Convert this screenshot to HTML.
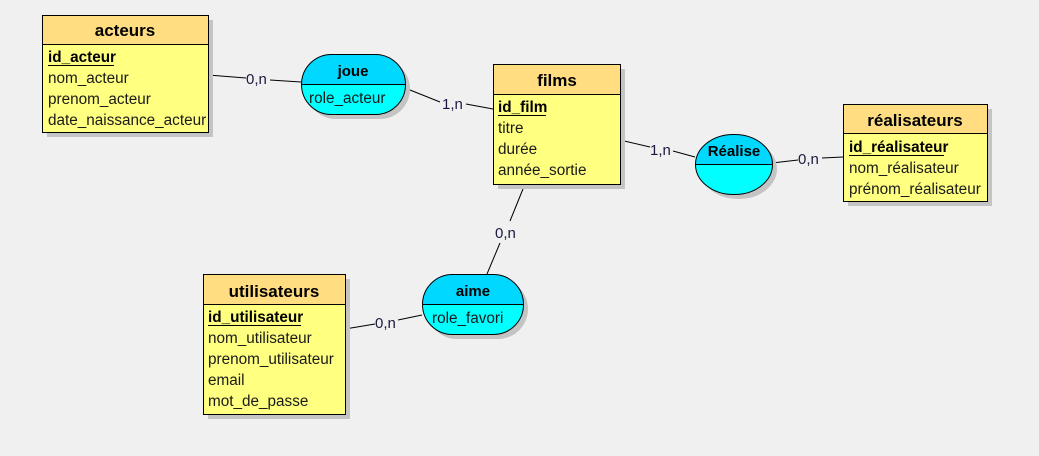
<!DOCTYPE html>
<html><head><meta charset="utf-8"><style>
html,body{margin:0;padding:0;background:#f0f0f0;}
svg{display:block;}
text{font-family:"Liberation Sans","DejaVu Sans",sans-serif;font-size:15.3px;fill:#1a1a1a;}
.h{font-weight:bold;font-size:17px;text-anchor:middle;fill:#000;}
.k{font-weight:bold;fill:#000;}
.c{font-size:15px;fill:#1a1a40;}
</style></head><body>
<svg width="1039" height="456" viewBox="0 0 1039 456">
<rect width="1039" height="456" fill="#f0f0f0"/>
<!-- links -->
<g stroke="#000" stroke-width="1" fill="none">
<line x1="208" y1="75" x2="246" y2="78"/><line x1="270" y1="80" x2="301" y2="82"/>
<line x1="405" y1="88" x2="440" y2="102"/><line x1="466" y1="104" x2="493" y2="109"/>
<line x1="620" y1="140" x2="650" y2="147"/><line x1="673" y1="151" x2="695" y2="157"/>
<line x1="772" y1="163" x2="798" y2="160"/><line x1="822" y1="158" x2="843" y2="157"/>
<line x1="525" y1="184" x2="510" y2="221"/><line x1="500" y1="243" x2="487" y2="274"/>
<line x1="345" y1="329" x2="375" y2="324"/><line x1="398" y1="320" x2="422" y2="315"/>
</g>
<text x="246" y="84" class="c">0,n</text>
<text x="442" y="109" class="c">1,n</text>
<text x="650" y="155" class="c">1,n</text>
<text x="798" y="164" class="c">0,n</text>
<text x="495" y="238" class="c">0,n</text>
<text x="375" y="328" class="c">0,n</text>
<!-- shadows -->
<g fill="#c4c4c4">
<rect x="47" y="20" width="166" height="117"/>
<rect x="498" y="69" width="127" height="120"/>
<rect x="848" y="109" width="144" height="97"/>
<rect x="208" y="279" width="142" height="140"/>
<rect x="306" y="59" width="104" height="60" rx="30"/>
<rect x="700" y="139" width="77" height="60" rx="38"/>
<rect x="427" y="279" width="101" height="60" rx="30"/>
</g>
<!-- entities -->
<g stroke="#000" stroke-width="1">
<rect x="42.5" y="15.5" width="166" height="117" fill="#ffff80"/>
<rect x="42.5" y="15.5" width="166" height="29" fill="#ffdd80"/>
<rect x="493.5" y="64.5" width="127" height="120" fill="#ffff80"/>
<rect x="493.5" y="64.5" width="127" height="30" fill="#ffdd80"/>
<rect x="843.5" y="104.5" width="144" height="97" fill="#ffff80"/>
<rect x="843.5" y="104.5" width="144" height="29" fill="#ffdd80"/>
<rect x="203.5" y="274.5" width="142" height="140" fill="#ffff80"/>
<rect x="203.5" y="274.5" width="142" height="30" fill="#ffdd80"/>
</g>
<!-- associations -->
<defs>
<clipPath id="cj"><rect x="301.5" y="54.5" width="104" height="60" rx="30"/></clipPath>
<clipPath id="cr"><rect x="695.5" y="134.5" width="77" height="60" rx="38"/></clipPath>
<clipPath id="ca"><rect x="422.5" y="274.5" width="101" height="60" rx="30"/></clipPath>
</defs>
<g clip-path="url(#cj)"><rect x="300" y="50" width="110" height="70" fill="#00ffff"/><rect x="300" y="50" width="110" height="34.5" fill="#00d8ff"/></g>
<rect x="301.5" y="54.5" width="104" height="60" rx="30" fill="none" stroke="#000"/>
<line x1="301" y1="84.5" x2="406" y2="84.5" stroke="#000"/>
<g clip-path="url(#cr)"><rect x="690" y="130" width="90" height="70" fill="#00ffff"/><rect x="690" y="130" width="90" height="34.5" fill="#00d8ff"/></g>
<rect x="695.5" y="134.5" width="77" height="60" rx="38" fill="none" stroke="#000"/>
<line x1="695" y1="164.5" x2="773" y2="164.5" stroke="#000"/>
<g clip-path="url(#ca)"><rect x="420" y="270" width="110" height="70" fill="#00ffff"/><rect x="420" y="270" width="110" height="34.5" fill="#00d8ff"/></g>
<rect x="422.5" y="274.5" width="101" height="60" rx="30" fill="none" stroke="#000"/>
<line x1="422" y1="304.5" x2="524" y2="304.5" stroke="#000"/>
<!-- texts -->
<text x="125" y="36" class="h">acteurs</text>
<text x="48" y="62" class="k">id_acteur</text>
<line x1="48" y1="65.5" x2="114" y2="65.5" stroke="#000"/>
<text x="48" y="83">nom_acteur</text>
<text x="48" y="104">prenom_acteur</text>
<text x="48" y="125">date_naissance_acteur</text>

<text x="557" y="86" class="h">films</text>
<text x="498" y="112" class="k">id_film</text>
<line x1="498" y1="115.5" x2="546" y2="115.5" stroke="#000"/>
<text x="498" y="133">titre</text>
<text x="498" y="154">durée</text>
<text x="498" y="175">année_sortie</text>

<text x="915" y="126" class="h">réalisateurs</text>
<text x="849" y="152" class="k">id_réalisateur</text>
<line x1="849" y1="155.5" x2="944" y2="155.5" stroke="#000"/>
<text x="849" y="173">nom_réalisateur</text>
<text x="849" y="194">prénom_réalisateur</text>

<text x="274" y="297" class="h">utilisateurs</text>
<text x="208" y="322" class="k">id_utilisateur</text>
<line x1="208" y1="325.5" x2="301" y2="325.5" stroke="#000"/>
<text x="208" y="343">nom_utilisateur</text>
<text x="208" y="364">prenom_utilisateur</text>
<text x="208" y="385">email</text>
<text x="208" y="406">mot_de_passe</text>

<text x="353" y="76" class="h" style="font-size:15px">joue</text>
<text x="309" y="103">role_acteur</text>
<text x="734" y="156" class="h" style="font-size:15px">Réalise</text>
<text x="473" y="296" class="h" style="font-size:15px">aime</text>
<text x="432" y="323">role_favori</text>
</svg>
</body></html>
